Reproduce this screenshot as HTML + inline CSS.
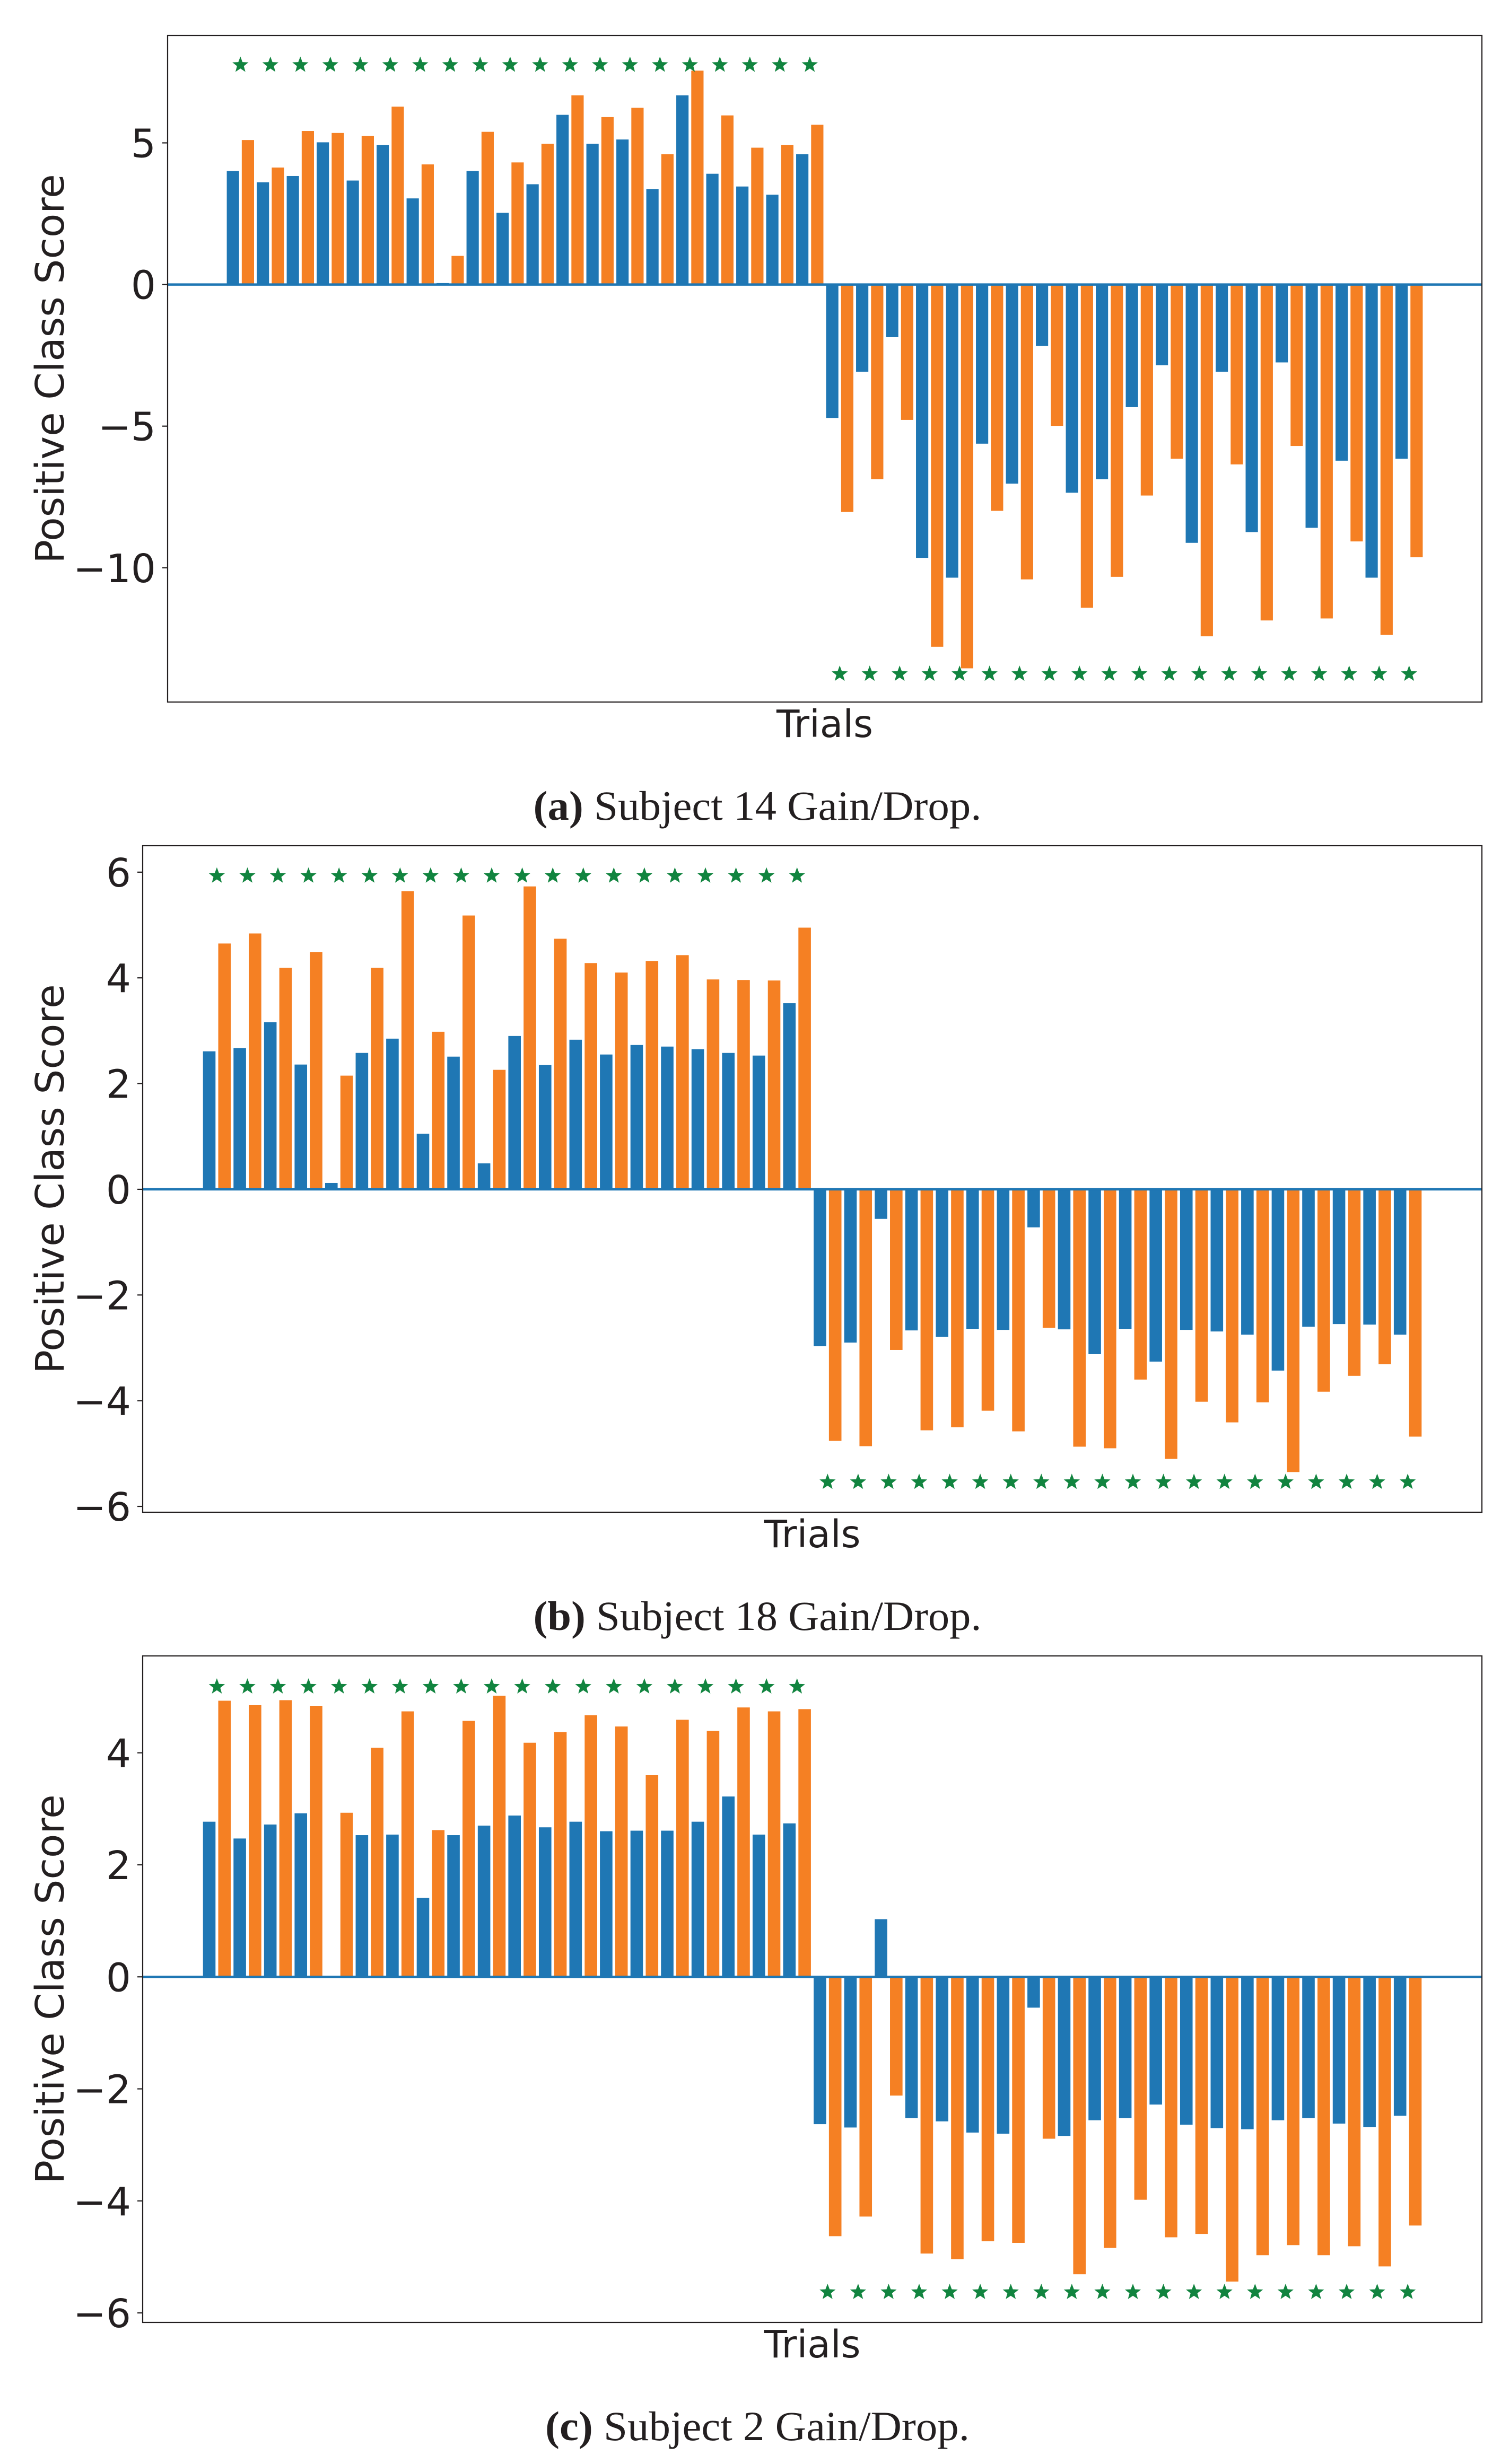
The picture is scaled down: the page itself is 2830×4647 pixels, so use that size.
<!DOCTYPE html>
<html>
<head>
<meta charset="utf-8">
<style>
html,body{margin:0;padding:0;background:#fff;}
svg{display:block;}
</style>
</head>
<body>
<svg id="fig" xmlns="http://www.w3.org/2000/svg" width="2830" height="4647" viewBox="0 0 2830 4647"></svg>
<script>
// ---- Panel (a) Subject 14 ----
const aBlue = [4.01,3.61,3.83,5.02,3.67,4.93,3.04,0.05,4.01,2.53,3.54,5.99,4.97,5.12,3.37,6.68,3.91,3.46,3.17,4.60,
  -4.71,-3.08,-1.86,-9.65,-10.35,-5.62,-7.03,-2.17,-7.35,-6.87,-4.33,-2.85,-9.12,-3.08,-8.74,-2.75,-8.59,-6.22,-10.35,-6.15];
const aOrange = [5.10,4.13,5.42,5.35,5.25,6.28,4.24,1.01,5.39,4.31,4.97,6.68,5.91,6.24,4.60,7.55,5.97,4.83,4.93,5.64,
  -8.03,-6.87,-4.78,-12.79,-13.55,-7.99,-10.41,-4.99,-11.41,-10.32,-7.45,-6.15,-12.42,-6.35,-11.86,-5.70,-11.79,-9.07,-12.37,-9.63];
const aTicks = [5,0,-5,-10];
const aTickLabels = ["5","0","\u22125","\u221210"];
const aStarTop = 7.75, aStarBottom = -13.75;

// ---- Panel (b) Subject 18 ----
const bBlue = [2.61,2.67,3.16,2.36,0.12,2.58,2.85,1.05,2.51,0.49,2.90,2.35,2.83,2.55,2.73,2.70,2.65,2.58,2.53,3.52,
  -2.97,-2.90,-0.56,-2.67,-2.79,-2.64,-2.66,-0.72,-2.65,-3.12,-2.64,-3.26,-2.66,-2.69,-2.75,-3.43,-2.60,-2.55,-2.56,-2.75];
const bOrange = [4.65,4.84,4.19,4.49,2.15,4.19,5.64,2.98,5.18,2.26,5.73,4.74,4.28,4.10,4.32,4.43,3.97,3.96,3.95,4.95,
  -4.76,-4.86,-3.04,-4.56,-4.50,-4.19,-4.58,-2.62,-4.87,-4.90,-3.60,-5.10,-4.02,-4.41,-4.03,-5.35,-3.83,-3.53,-3.31,-4.68];
const bTicks = [6,4,2,0,-2,-4,-6];
const bTickLabels = ["6","4","2","0","\u22122","\u22124","\u22126"];
const bStarTop = 5.93, bStarBottom = -5.54;

// ---- Panel (c) Subject 2 ----
const cBlue = [2.77,2.47,2.72,2.92,0.02,2.53,2.54,1.41,2.53,2.70,2.88,2.67,2.77,2.60,2.61,2.61,2.77,3.22,2.54,2.74,
  -2.63,-2.69,1.03,-2.52,-2.58,-2.78,-2.80,-0.55,-2.84,-2.56,-2.52,-2.28,-2.64,-2.70,-2.72,-2.56,-2.52,-2.62,-2.68,-2.48];
const cOrange = [4.93,4.85,4.94,4.84,2.93,4.09,4.74,2.62,4.57,5.02,4.18,4.37,4.67,4.47,3.60,4.59,4.39,4.81,4.74,4.78,
  -4.63,-4.28,-2.12,-4.94,-5.04,-4.72,-4.75,-2.89,-5.31,-4.84,-3.98,-4.65,-4.59,-5.44,-4.97,-4.79,-4.97,-4.81,-5.17,-4.44];
const cTicks = [4,2,0,-2,-4,-6];
const cTickLabels = ["4","2","0","\u22122","\u22124","\u22126"];
const cStarTop = 5.18, cStarBottom = -5.63;

const captionsBold = ["(a)","(b)","(c)"];
const captionsText = [" Subject 14 Gain/Drop."," Subject 18 Gain/Drop."," Subject 2 Gain/Drop."];

const NS = "http://www.w3.org/2000/svg";
const svg = document.getElementById('fig');
const BLUE = "#1f77b4", ORANGE = "#f58023", GREEN = "#11843f", INK = "#231f20";
const SANS = '"DejaVu Sans","Liberation Sans",sans-serif';
const SERIF = '"Liberation Serif",serif';

function mk(tag, attrs, parent) {
  const e = document.createElementNS(NS, tag);
  for (const k in attrs) e.setAttribute(k, attrs[k]);
  (parent || svg).appendChild(e);
  return e;
}

function starPath(cx, cy, R) {
  const r = R * 0.42;
  let d = "";
  for (let i = 0; i < 10; i++) {
    const rad = i % 2 === 0 ? R : r;
    const ang = -Math.PI / 2 + i * Math.PI / 5;
    d += (i ? "L" : "M") + (cx + rad * Math.cos(ang)).toFixed(1) + "," + (cy + rad * Math.sin(ang)).toFixed(1);
  }
  return d + "Z";
}

function panel(cfg) {
  const g = mk('g', {});
  
  
  const {left, right, top, bottom, ymin, ymax} = cfg;
  const n = cfg.blue.length;
  const pad = 4.36;
  const xmin = -pad, xmax = (2 * n - 1) + pad;
  const xs = v => left + (v - xmin) / (xmax - xmin) * (right - left);
  const ys = v => top + (ymax - v) / (ymax - ymin) * (bottom - top);
  const bw = 0.82;

  for (let i = 0; i < n; i++) {
    [[cfg.blue[i], BLUE, 'blue'], [cfg.orange[i], ORANGE, 'orange']].forEach((s, k) => {
      const xc = 2 * i + k;
      const x0 = xs(xc - bw / 2), x1 = xs(xc + bw / 2);
      const y0 = ys(0), y1 = ys(s[0]);
      const r = mk('rect', {x: x0, y: Math.min(y0, y1), width: x1 - x0, height: Math.abs(y1 - y0), fill: s[1]}, g);
      
      
    });
    const sy = i < n / 2 ? cfg.starTop : cfg.starBottom;
    const st = mk('path', {d: starPath(xs(2 * i + 0.5), ys(sy), 16), fill: GREEN}, g);
    
    
  }
  const zl = mk('line', {x1: left, x2: right, y1: ys(0), y2: ys(0), stroke: BLUE, 'stroke-width': 4.5}, g);
  
  
  const fr = mk('rect', {x: left, y: top, width: right - left, height: bottom - top, fill: 'none', stroke: INK, 'stroke-width': 2.2}, g);
  
  
  cfg.ticks.forEach((t, k) => {
    const y = ys(t);
    const tl = mk('line', {x1: left - 10, x2: left, y1: y, y2: y, stroke: INK, 'stroke-width': 2.2}, g);
    
    
    const tx = mk('text', {x: left - 22, y: y + 27, 'text-anchor': 'end', 'font-family': SANS, 'font-size': 74, fill: INK}, g);
    tx.textContent = cfg.tickLabels[k];
    
    
  });
  const cy = (top + bottom) / 2;
  const yl = mk('text', {x: 0, y: 0, transform: 'translate(120,' + cy + ') rotate(-90)', 'text-anchor': 'middle', 'font-family': SANS, 'font-size': 74, fill: INK}, g);
  yl.textContent = 'Positive Class Score';
  
  
  const xl = mk('text', {x: (left + right) / 2, y: bottom + 66, 'text-anchor': 'middle', 'font-family': SANS, 'font-size': 71, fill: INK}, g);
  xl.textContent = 'Trials';
  
  
  const cap = mk('text', {x: 1428 - cfg.capW / 2, y: bottom + 222, 'font-family': SERIF, 'font-size': 78, fill: INK,
    textLength: cfg.capW, lengthAdjust: 'spacingAndGlyphs'}, g);
  
  
  const b = mk('tspan', {'font-weight': 'bold'}, cap);
  b.textContent = cfg.capBold;
  const t2 = mk('tspan', {}, cap);
  t2.textContent = cfg.capText;
}

panel({name: 'panel-a-subject-14', left: 316, right: 2794, top: 67, bottom: 1324, ymin: -14.74, ymax: 8.79,
  blue: aBlue, orange: aOrange, ticks: aTicks, tickLabels: aTickLabels, starTop: aStarTop, starBottom: aStarBottom,
  capBold: captionsBold[0], capText: captionsText[0], capW: 845});
panel({name: 'panel-b-subject-18', left: 269, right: 2794, top: 1595, bottom: 2852, ymin: -6.11, ymax: 6.50,
  blue: bBlue, orange: bOrange, ticks: bTicks, tickLabels: bTickLabels, starTop: bStarTop, starBottom: bStarBottom,
  capBold: captionsBold[1], capText: captionsText[1], capW: 845});
panel({name: 'panel-c-subject-2', left: 269, right: 2794, top: 3123, bottom: 4380, ymin: -6.17, ymax: 5.73,
  blue: cBlue, orange: cOrange, ticks: cTicks, tickLabels: cTickLabels, starTop: cStarTop, starBottom: cStarBottom,
  capBold: captionsBold[2], capText: captionsText[2], capW: 800});
</script>
</body>
</html>
